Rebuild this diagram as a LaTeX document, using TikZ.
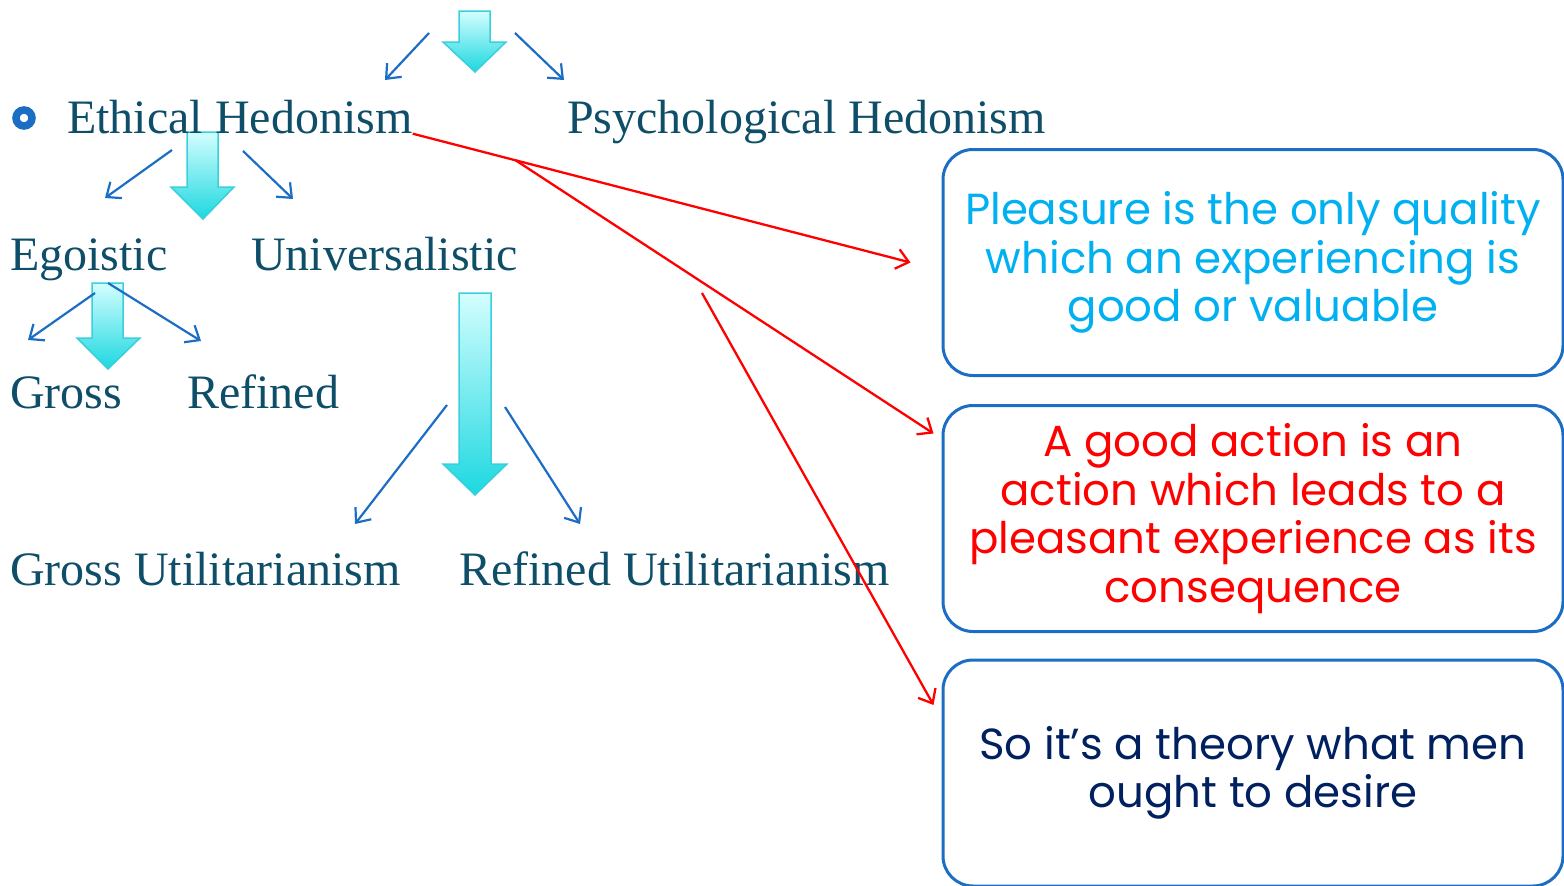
\documentclass[tikz,border=0pt]{standalone}
\usepackage{fontspec}
\setmainfont{Liberation Serif}
\newfontfamily\gothic{Poppins}
\usetikzlibrary{arrows.meta,calc}

\definecolor{tealtext}{HTML}{0E4E68}
\definecolor{linkblue}{HTML}{1C6EC4}
\definecolor{skytext}{HTML}{00B0F0}
\definecolor{navytext}{HTML}{002060}
\definecolor{aquatop}{HTML}{D4FEFF}
\definecolor{aquamid}{HTML}{7EFAFF}
\definecolor{aquabot}{HTML}{1CD8E0}
\definecolor{aquaedge}{HTML}{3ACFDC}

\tikzset{
  term/.style={anchor=base west, inner sep=0pt, text=tealtext,
    font=\fontsize{48}{56}\selectfont},
  thin arrow/.style={draw=linkblue, line width=2.2pt,
    -{Straight Barb[length=12pt,width=20pt]}},
  red arrow/.style={draw=red, line width=2.3pt,
    -{Straight Barb[length=12pt,width=20pt]}},
  claim/.style={draw=linkblue, line width=3pt, rounded corners=30pt,
    minimum width=620pt, minimum height=226pt, inner sep=0pt, align=center,
    font=\gothic\fontsize{43.5}{48.5}\selectfont},
  block/.style={draw=aquaedge, line width=1.5pt, top color=aquatop,
    middle color=aquamid, bottom color=aquabot}
}

\begin{document}
\begin{tikzpicture}[x=1pt, y=-1pt]
\useasboundingbox (0,0) rectangle (1564,886);

% block arrows
\shade[block] (459,11) -- (490,11) -- (490,42) -- (506,42) -- (475,72) -- (443,42) -- (459,42) -- cycle;
\shade[block] (187,132) -- (218,132) -- (218,187) -- (234,187) -- (203,219) -- (171,187) -- (187,187) -- cycle;
\shade[block] (92,283) -- (123,283) -- (123,338) -- (140,338) -- (108,369) -- (77,338) -- (92,338) -- cycle;
\shade[block] (459,293) -- (491,293) -- (491,464) -- (507,464) -- (475,495) -- (443,464) -- (459,464) -- cycle;

% terms
\node[circle, draw=linkblue, line width=7.5pt, minimum size=16pt, inner sep=0pt] (bullet) at (24,118) {};
\node[term] (ethical) at (67,133) {Ethical Hedonism};
\node[term] (psych) at (567,133) {Psychological Hedonism};
\node[term] (egoistic) at (10,270) {Egoistic};
\node[term] (univ) at (251,270) {Universalistic};
\node[term] (gross) at (10,408) {Gross};
\node[term] (refined) at (187,408) {Refined};
\node[term] (grossutil) at (10,585) {Gross Utilitarianism};
\node[term] (refinedutil) at (459,585) {Refined Utilitarianism};

% claims
\node[claim, text=skytext] (pleasure) at (1253,262.5)
  {Pleasure is the only quality\\which an experiencing is\\good or valuable};
\node[claim, text=red] (action) at (1253,518.5)
  {A good action is an\\action which leads to a\\pleasant experience as its\\consequence};
\node[claim, text=navytext] (desire) at (1253,773)
  {So it’s a theory what men\\ought to desire};

% thin arrows
\coordinate (topL0) at (429,33);  \coordinate (topL1) at (385,80);
\coordinate (topR0) at (515,33);  \coordinate (topR1) at (564,80);
\coordinate (ethL0) at (172,150); \coordinate (ethL1) at (105,198);
\coordinate (ethR0) at (243,151); \coordinate (ethR1) at (293,199);
\coordinate (egoL0) at (95,293);  \coordinate (egoL1) at (28,340);
\coordinate (egoR0) at (108,283); \coordinate (egoR1) at (201,341);
\coordinate (uniL0) at (447,405); \coordinate (uniL1) at (355,524);
\coordinate (uniR0) at (505,407); \coordinate (uniR1) at (580,524);
\draw[thin arrow] (topL0) -- (topL1);
\draw[thin arrow] (topR0) -- (topR1);
\draw[thin arrow] (ethL0) -- (ethL1);
\draw[thin arrow] (ethR0) -- (ethR1);
\draw[thin arrow] (egoL0) -- (egoL1);
\draw[thin arrow] (egoR0) -- (egoR1);
\draw[thin arrow] (uniL0) -- (uniL1);
\draw[thin arrow] (uniR0) -- (uniR1);

% red links
\coordinate (pleasureIn) at ($(pleasure.west)+(-31,0)$);
\coordinate (split) at ($(ethical.south east)!0.207!(pleasureIn)$);
\coordinate (low) at (702,293);
\draw[red arrow] (ethical.south east) -- (pleasureIn);
\draw[red arrow] (split) -- ($(action.west)+(-8,-85)$);
\draw[red arrow] (low) -- ($(desire.west)+(-8,-68)$);
\end{tikzpicture}
\end{document}
